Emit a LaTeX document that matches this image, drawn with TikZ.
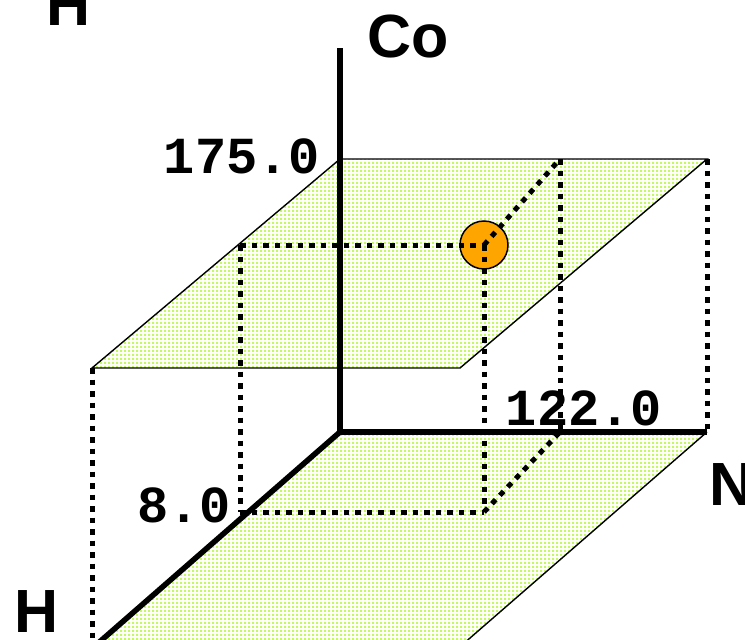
\documentclass[tikz,border=0pt]{standalone}
\usepackage{fontspec}
\setmainfont{Liberation Sans}
\newfontfamily\monofont{Liberation Mono}
\usetikzlibrary{patterns.meta}
\definecolor{gdot}{RGB}{196,250,96}
\definecolor{ballc}{RGB}{255,165,0}
\tikzdeclarepattern{
  name=gdots,
  bottom left={(0pt,0pt)},
  top right={(4pt,4pt)},
  tile size={(4pt,4pt)},
  code={\fill (0pt,0pt) rectangle (2.5pt,2.5pt);}
}
\tikzset{
  plane/.style={pattern={gdots}, pattern color=gdot},
  edge/.style={line width=1.4pt, line join=miter},
  axis/.style={line width=5.5pt},
  dots/.style={line width=5pt, dash pattern=on 5.5pt off 6pt},
  axlabel/.style={font=\fontsize{61}{61}\selectfont\bfseries, inner sep=0pt, anchor=base west},
  numlabel/.style={font=\fontsize{52}{52}\selectfont\monofont\bfseries, inner sep=0pt, anchor=base},
}
\begin{document}
\begin{tikzpicture}[x=1pt,y=-1pt]
\useasboundingbox (0,0) rectangle (745,640);
\fill[white] (0,0) rectangle (745,640);
% corners
\coordinate (O) at (340,432);
\coordinate (Ctop) at (340,48);
\coordinate (Nend) at (707,432);
\coordinate (Hend) at (96,645);
\coordinate (LfR) at (462,645);
\coordinate (Ub1) at (340,159);
\coordinate (Ub2) at (707,159);
\coordinate (Uf2) at (460,368);
\coordinate (Uf1) at (92,368);
\coordinate (P) at (484,245);
\coordinate (PL) at (240,245);
\coordinate (PB) at (560,159);
\coordinate (QL) at (240,512);
\coordinate (Q) at (484,512);
\coordinate (QB) at (560,432);
\coordinate (Dn1) at (92,645);
% lower plane
\fill[plane] (O) -- (Nend) -- (LfR) -- (Hend) -- cycle;
\draw[edge] (Nend) -- (LfR);
% upper plane
\fill[plane] (Ub1) -- (Ub2) -- (Uf2) -- (Uf1) -- cycle;
\draw[edge] (Ub1) -- (Ub2) -- (Uf2) -- (Uf1) -- cycle;
% axes
\draw[axis] (O) -- (Ctop);
\draw[axis] (O) -- (Nend);
\draw[axis] (O) -- (Hend);
% point
\node[circle, draw, line width=1.5pt, fill=ballc, minimum size=48pt, inner sep=0pt] (ball) at (P) {};
% dotted guides
\draw[dots] (PL) -- (P);
\draw[dots] (P) -- (PB);
\draw[dots] (PL) -- (QL);
\draw[dots] (P) -- (Q);
\draw[dots] (PB) -- (QB);
\draw[dots] (QL) -- (Q);
\draw[dots] (Q) -- (QB);
\draw[dots] (Uf1) -- (Dn1);
\draw[dots] (Ub2) -- (Nend);
% labels
\node[axlabel] (co) at (367,57) {Co};
\node[axlabel] (n) at (709,505) {N};
\node[axlabel] (h) at (14,632) {H};
\node[axlabel] (htop) at (46,25) {H};
\node[numlabel] (v175) at (242,173) {175.0};
\node[numlabel] (v122) at (584,425) {122.0};
\node[numlabel] (v8) at (184,522) {8.0};
\end{tikzpicture}
\end{document}
